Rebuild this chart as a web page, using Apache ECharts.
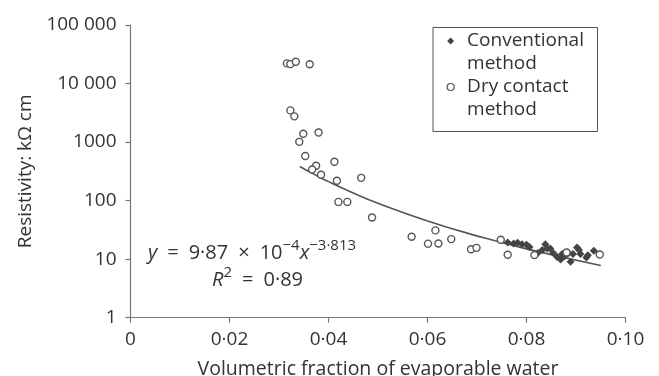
<!DOCTYPE html>
<html>
<head>
<meta charset="utf-8">
<script src="https://cdn.jsdelivr.net/npm/echarts@6/dist/echarts.min.js"></script>
<style>
html,body{margin:0;padding:0;background:#fff;}
#chart{width:659px;height:376px;}
</style>
</head>
<body>
<div id="chart"></div>
<script>
// ---- Data ----
const xTickLabels = ['0', '0·02', '0·04', '0·06', '0·08', '0·10'];
const yTickLabels = ['1', '10', '100', '1000', '10 000', '100 000'];

const seriesNames = ['Conventional method', 'Dry contact method'];

// Conventional method: [volumetric fraction, resistivity kΩ cm]
const conventionalX = [0.0762, 0.0774, 0.0782, 0.0791, 0.0800, 0.0806, 0.0823, 0.0832, 0.0838, 0.0842,
                       0.0848, 0.0854, 0.0862, 0.0869, 0.0872, 0.0877, 0.0885, 0.0889, 0.0894, 0.0902,
                       0.0906, 0.0909, 0.0921, 0.0924, 0.0936];
const conventionalY = [19.3, 18.5, 19.0, 18.0, 17.6, 16.2, 12.8, 14.3, 18.0, 15.2,
                       15.2, 12.8, 10.9, 9.9, 12.2, 11.2, 12.8, 9.0, 12.2, 15.8,
                       14.3, 12.2, 10.7, 11.7, 13.9];

// Dry contact method
const dryX = [0.0316, 0.0323, 0.0334, 0.0362, 0.0323, 0.0331, 0.0349, 0.0380, 0.0341, 0.0353,
              0.0375, 0.0367, 0.0412, 0.0385, 0.0417, 0.0466, 0.0420, 0.0438, 0.0488, 0.0568,
              0.0616, 0.0601, 0.0622, 0.0648, 0.0688, 0.0699, 0.0748, 0.0762, 0.0816, 0.0881, 0.0948];
const dryY = [22100, 21500, 23600, 21300, 3480, 2750, 1390, 1460, 1010, 577,
              393, 341, 460, 276, 218, 245, 95, 95, 51.6, 24.2,
              31, 18.4, 18.5, 22, 14.8, 15.6, 21.5, 11.9, 11.8, 13.0, 12.0];

// Fitted curve y = 9.87e-4 x^-3.813
const trendX = [0.0342, 0.037, 0.040, 0.045, 0.050, 0.060, 0.070, 0.080, 0.095];
const trendY = [383, 284, 211, 135, 90.2, 45.0, 25.0, 15.0, 7.8];

const FONT = 'Open Sans';
const TXT = '#333';
const SP = '\u2002';

function zip(a, b) { return a.map((v, i) => [v, b[i]]); }

const chart = echarts.init(document.getElementById('chart'), null, {renderer: 'canvas'});

const eqRich = {
  i: {fontFamily: FONT, fontSize: 20, fontStyle: 'italic', fill: TXT, lineHeight: 30},
  s: {fontFamily: FONT, fontSize: 15, fill: TXT, verticalAlign: 'top', lineHeight: 15}
};

const option = {
  animation: false,
  backgroundColor: '#fff',
  grid: {left: 130.5, right: 33.5, top: 25, bottom: 58.3, containLabel: false, outerBoundsMode: 'none'},
  xAxis: {
    type: 'value', min: 0, max: 0.1, interval: 0.02,
    name: 'Volumetric fraction of evaporable water',
    nameLocation: 'middle', nameGap: 42,
    nameTextStyle: {fontFamily: FONT, fontSize: 19.5, color: TXT},
    axisLine: {show: true, lineStyle: {color: '#777', width: 1.2}},
    axisTick: {show: true, length: 5, lineStyle: {color: '#777', width: 1.2}},
    axisLabel: {
      fontFamily: FONT, fontSize: 19, color: TXT, margin: 12,
      formatter: v => xTickLabels[Math.round(v / 0.02)]
    },
    splitLine: {show: false}
  },
  yAxis: {
    type: 'log', logBase: 10, min: 1, max: 100000,
    name: 'Resistivity: kΩ cm',
    nameLocation: 'middle', nameGap: 92, nameRotate: 90,
    nameTextStyle: {fontFamily: FONT, fontSize: 19, color: TXT},
    axisLine: {show: true, lineStyle: {color: '#777', width: 1.2}},
    axisTick: {show: true, length: 5, lineStyle: {color: '#777', width: 1.2}},
    minorTick: {show: false},
    axisLabel: {
      fontFamily: FONT, fontSize: 19, color: TXT, margin: 14,
      formatter: v => yTickLabels[Math.round(Math.log10(v))]
    },
    splitLine: {show: false}
  },
  legend: {
    orient: 'vertical', left: 446.5, top: 6.5, padding: 0,
    itemWidth: 7, itemHeight: 7, itemGap: -23,
    formatter: n => '\n' + n.replace(' method', '\nmethod'),
    textStyle: {fontFamily: FONT, fontSize: 19, color: TXT, lineHeight: 23, padding: [0, 0, 0, 8]},
    data: [
      {name: seriesNames[0], icon: 'diamond', itemStyle: {color: '#444', borderWidth: 0}},
      {name: seriesNames[1], icon: 'circle', itemStyle: {color: '#fff', borderColor: '#555', borderWidth: 1.2}}
    ]
  },
  graphic: [
    {type: 'rect', left: 432.5, top: 27, shape: {width: 164.5, height: 104},
     style: {fill: 'transparent', stroke: '#555', lineWidth: 1}, z: 10},
    {type: 'text', x: 148, y: 253.5,
     style: {
       text: '{i|y}' + SP + '=' + SP + '9·87' + SP + '×' + SP + '10{s|−4}{i|x}{s|−3·813}',
       fontFamily: FONT, fontSize: 20, fill: TXT, verticalAlign: 'middle', lineHeight: 30,
       rich: eqRich
     }, z: 10},
    {type: 'text', x: 212, y: 280,
     style: {
       text: '{i|R}{s|2}' + SP + '=' + SP + '0·89',
       fontFamily: FONT, fontSize: 20, fill: TXT, verticalAlign: 'middle', lineHeight: 30,
       rich: eqRich
     }, z: 10}
  ],
  series: [
    {
      name: seriesNames[0], type: 'scatter', symbol: 'diamond', symbolSize: 8,
      itemStyle: {color: '#444', opacity: 1},
      data: zip(conventionalX, conventionalY), z: 3
    },
    {
      name: seriesNames[1], type: 'scatter', symbol: 'circle', symbolSize: 7,
      itemStyle: {color: '#fff', borderColor: '#555', borderWidth: 1.4, opacity: 1},
      data: zip(dryX, dryY), z: 4
    },
    {
      name: 'fit', type: 'line', smooth: true, showSymbol: false, symbol: 'none',
      lineStyle: {color: '#555', width: 1.6},
      data: zip(trendX, trendY), z: 2, silent: true
    }
  ]
};
chart.setOption(option);
</script>
</body>
</html>
